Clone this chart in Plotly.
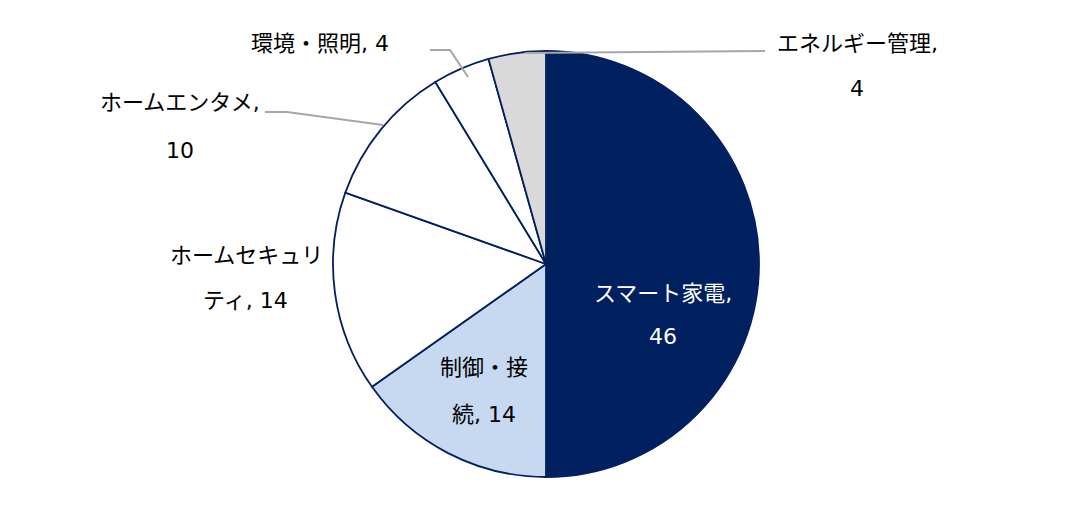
import plotly.graph_objects as go

labels = ["スマート家電", "制御・接続", "ホームセキュリティ", "ホームエンタメ", "環境・照明", "エネルギー管理"]
values = [46, 14, 14, 10, 4, 4]
colors = ["#002060", "#C6D9F0", "#FFFFFF", "#FFFFFF", "#FFFFFF", "#D9D9D9"]
text_colors = ["#FFFFFF", "#000000", "#000000", "#000000", "#000000", "#000000"]
break_at = [7, 4, 7, 8, None, 8]

# label line centers in pixel space (x, y from top) for line 1 and line 2
label_pos = [
    [(663, 293), (663, 336)],
    [(484, 367), (484, 414)],
    [(246, 255), (245, 300)],
    [(180, 103), (180, 150)],
    [(320, 43), None],
    [(857, 43), (857, 88)],
]
# leader lines (pixel polyline) for outside labels
leaders = {
    3: [(265, 112), (287, 112), (383, 125)],
    4: [(430, 50), (450, 50), (468, 77)],
    5: [(765, 51), (525, 53)],
}

W, H = 1091, 520
cx, cy, r = 546, 264, 213

fig = go.Figure(go.Pie(
    labels=labels, values=values, sort=False, direction="clockwise", rotation=0,
    marker=dict(colors=colors, line=dict(color="#002060", width=1.8)),
    textinfo="none", hoverinfo="label+value", showlegend=False,
    domain=dict(x=[(cx - r) / W, (cx + r) / W], y=[(H - cy - r) / H, (H - cy + r) / H]),
))

font_family = "DejaVu Sans, Noto Sans CJK JP"
annotations = []
for i, (lab, val) in enumerate(zip(labels, values)):
    full = f"{lab}, {val}"
    if break_at[i] is None:
        lines = [full]
    else:
        lines = [full[:break_at[i]], full[break_at[i]:].strip()]
    for line, pos in zip(lines, label_pos[i]):
        if pos is None:
            continue
        annotations.append(dict(
            x=pos[0] / W, y=1 - pos[1] / H, xref="paper", yref="paper",
            text=line, showarrow=False, xanchor="center", yanchor="middle",
            font=dict(family=font_family, size=22, color=text_colors[i]),
        ))

shapes = []
for i, pts in leaders.items():
    path = "M " + " L ".join(f"{x / W},{1 - y / H}" for x, y in pts)
    shapes.append(dict(type="path", path=path, xref="paper", yref="paper",
                       line=dict(color="#A6A6A6", width=2)))

fig.update_layout(
    width=W, height=H, margin=dict(l=0, r=0, t=0, b=0),
    paper_bgcolor="white", plot_bgcolor="white",
    annotations=annotations, shapes=shapes,
)
fig.write_html("out.html", config={"displayModeBar": False},
               post_script="document.body.style.margin='0';")
